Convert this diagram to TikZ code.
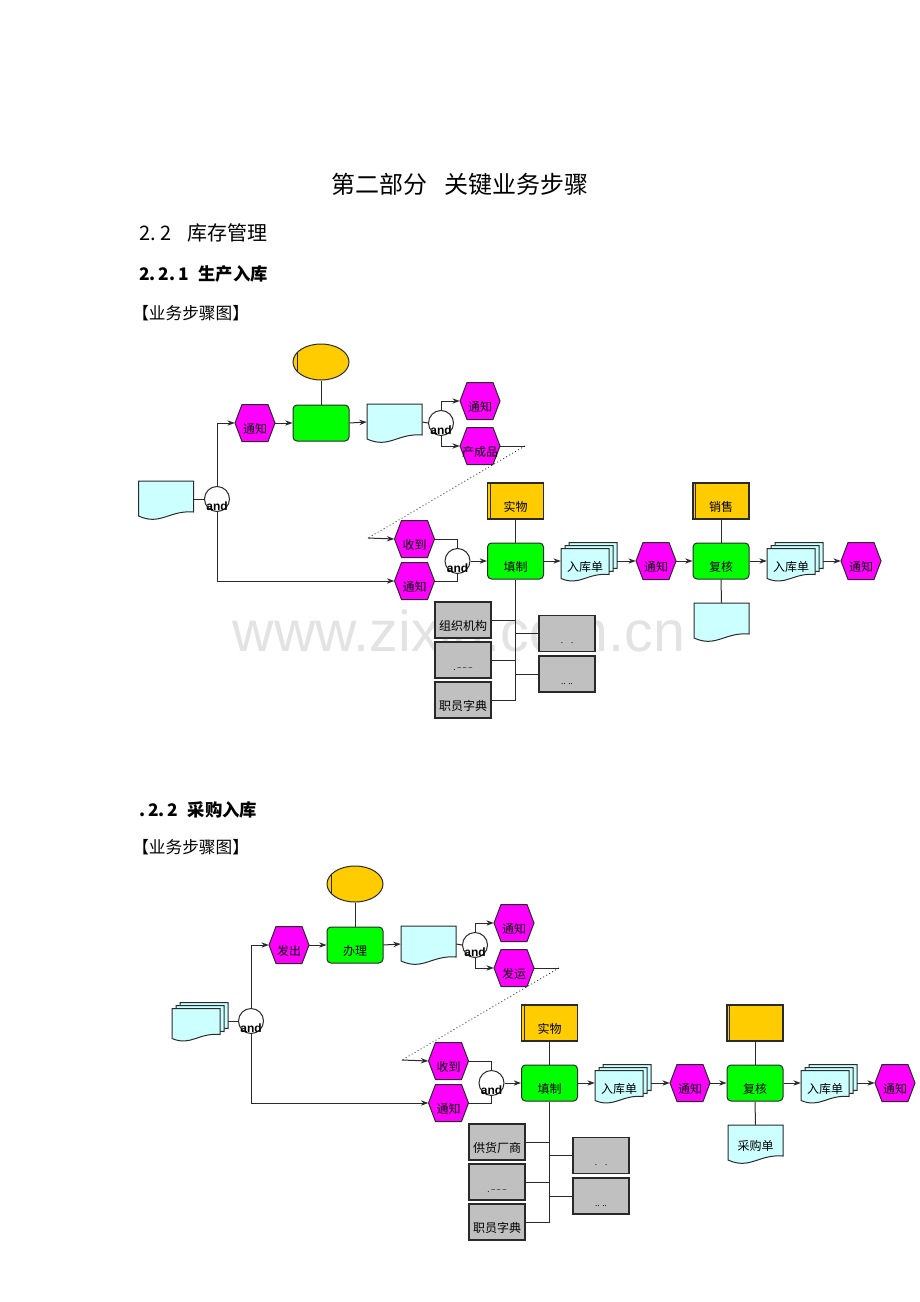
\documentclass[tikz,border=0pt]{standalone}
\usepackage{fontspec}
\setmainfont{Noto Sans CJK SC}
\newfontfamily\latinsans{Liberation Sans}
\usetikzlibrary{arrows.meta,shapes.geometric}

\definecolor{mag}{HTML}{FF00FF}
\definecolor{grn}{HTML}{00FF00}
\definecolor{cyn}{HTML}{CCFFFF}
\definecolor{org}{HTML}{FFCC00}
\definecolor{gry}{HTML}{C0C0C0}
\definecolor{edge}{HTML}{2A2A2A}

\tikzset{
 ln/.style={draw=edge, line width=0.75pt},
 arr/.style={ln, -{Stealth[length=5.5pt,width=4pt]}},
 dots/.style={draw=black, line width=0.6pt, dotted},
 txt/.style={font=\fontsize{9pt}{9pt}\selectfont, text height=15pt, text depth=0pt, inner sep=0pt},
 hexpath/.style={draw=edge, line width=0.75pt, fill=mag},
 docpath/.style={draw=edge, line width=0.75pt, fill=cyn},
 ghost/.style={txt, draw=none, fill=none},
 actbox/.style={txt, rectangle, rounded corners=3pt, draw=edge, line width=0.75pt, fill=grn, minimum width=42pt, minimum height=27pt},
 orgbox/.style={txt, rectangle, draw=edge, line width=0.9pt, fill=org, minimum width=42pt, minimum height=27pt},
 grybox/.style={txt, rectangle, draw=edge, line width=0.9pt, fill=gry, minimum width=42pt, minimum height=27pt},
 andgate/.style={circle, draw=edge, line width=0.75pt, fill=white, minimum size=18.75pt, inner sep=0pt,
   label={[font=\latinsans\bfseries\fontsize{9pt}{9pt}\selectfont, inner sep=0pt, yshift=-5.5pt]center:and}},
 evt/.style={ellipse, draw=edge, line width=0.75pt, fill=org, minimum width=42pt, minimum height=27pt, inner sep=0pt},
}

\newcommand\mkhex[3]{%
 \begin{scope}[shift={#2}]
  \filldraw[hexpath] (-20,0) -- (-13,-18.5) -- (13,-18.5) -- (20,0) -- (13,18.5) -- (-13,18.5) -- cycle;
 \end{scope}
 \node[ghost, minimum width=30pt, minimum height=27.75pt] (#1) at #2 {#3};}

\newcommand\mkdoc[3]{%
 \begin{scope}[shift={#2}]
  \filldraw[docpath] (-27.5,-18) -- (27.5,-18) -- (27.5,13) .. controls (3,11) and (-5.5,27) .. (-27.5,17) -- cycle;
 \end{scope}
 \node[ghost, text height=11pt, minimum width=41.25pt, minimum height=27pt] (#1) at #2 {#3};}

\newcommand\mksheet[2]{\filldraw[docpath] (#1,#2) -- (#1+48,#2) -- (#1+48,#2+26) .. controls (#1+26,#2+24) and (#1+19,#2+38) .. (#1,#2+30) -- cycle;}

\newcommand\mkstack[3]{%
 \begin{scope}[shift={#2}]
  \mksheet{-20}{-18.5}\mksheet{-24}{-15.5}\mksheet{-28}{-12.5}
 \end{scope}
 \node[ghost, minimum width=42pt, minimum height=27.75pt] (#1) at #2 {\hspace*{-6pt}#3};}

\newcommand\mkorg[3]{%
 \node[orgbox] (#1) at #2 {#3};
 \draw[ln] ([xshift=2.5pt]#1.north west) -- ([xshift=2.5pt]#1.south west);}

\newcommand\mkflow[7]{%
 % left input
 #7{ld}{(166,499)}{}
 \node[andgate] (a0) at (217,499) {};
 \draw[ln] (ld.east) -- (a0.west);
 % top row
 \node[evt] (ev) at (321,362) {};
 \draw[ln] ([xshift=3.75pt,yshift=7.5pt]ev.west) -- ([xshift=3.75pt,yshift=-7.5pt]ev.west);
 \mkhex{h1}{(255,423)}{#1}
 \node[actbox] (g1) at (321,423) {#2};
 \mkdoc{d1}{(394.5,422)}{}
 \node[andgate] (a1) at (441,423) {};
 \mkhex{h2}{(480,401)}{通知}
 \mkhex{h3}{(480,446)}{#3}
 \coordinate (c1) at (525,446);
 \coordinate (c2) at (368,538);
 % second row
 \mkhex{h4}{(414.5,539)}{收到}
 \mkhex{h5}{(414.5,581)}{通知}
 \node[andgate] (a2) at (457.5,561) {};
 \node[actbox] (g2) at (515.5,561) {填制};
 \mkorg{b1}{(515.5,501)}{实物}
 \mkstack{s1}{(589,561)}{入库单}
 \mkhex{h6}{(656,561)}{通知}
 \node[actbox] (g3) at (721,561) {复核};
 \mkorg{b2}{(721,501)}{#4}
 \mkdoc{d2}{(721.5,621)}{#5}
 \mkstack{s2}{(795,561)}{入库单}
 \mkhex{h7}{(861,561)}{通知}
 % data boxes
 \node[grybox] (k1) at (463,620) {#6};
 \node[grybox] (k2) at (463,660) {\fontsize{6pt}{6pt}\selectfont .\,--\,--\,--};
 \node[grybox] (k3) at (463,700) {职员字典};
 \node[grybox] (k4) at (567,633.5) {\fontsize{6pt}{6pt}\selectfont .\quad .};
 \node[grybox] (k5) at (567,674) {\fontsize{6pt}{6pt}\selectfont ..\,\,..};
 \coordinate (v) at (515.5,700);
 % connectors
 \draw[arr] (a0.north) |- (h1.west);
 \draw[arr] (a0.south) |- (h5.west);
 \draw[arr] (h1.east) -- (g1.west);
 \draw[ln] (ev.south) -- (g1.north);
 \draw[arr] (g1.east) -- (d1.west);
 \draw[ln] (d1.east) -- (a1.west);
 \draw[arr] (a1.north) |- (h2.west);
 \draw[arr] (a1.south) |- (h3.west);
 \draw[ln] (h3.east) -- (c1);
 \draw[dots] (c1) -- (c2);
 \draw[arr] (c2) -- (h4.west);
 \draw[ln] (h4.east) -| (a2.north);
 \draw[ln] (h5.east) -| (a2.south);
 \draw[arr] (a2.east) -- (g2.west);
 \draw[ln] (b1.south) -- (g2.north);
 \draw[arr] (g2.east) -- (s1.west);
 \draw[arr] (s1.east) -- (h6.west);
 \draw[arr] (h6.east) -- (g3.west);
 \draw[ln] (b2.south) -- (g3.north);
 \draw[ln] (g3.south) -- (d2.north);
 \draw[arr] (g3.east) -- (s2.west);
 \draw[arr] (s2.east) -- (h7.west);
 \draw[ln] (g2.south) -- (v);
 \draw[ln] (k1.east) -- (k1.east -| v);
 \draw[ln] (k2.east) -- (k2.east -| v);
 \draw[ln] (k3.east) -- (v);
 \draw[ln] (k4.west -| v) -- (k4.west);
 \draw[ln] (k5.west -| v) -- (k5.west);
}

\begin{document}
\begin{tikzpicture}[x=0.75pt,y=-0.75pt]
\useasboundingbox (0,0) rectangle (920,1302);
\fill[white] (0,0) rectangle (920,1302);

% watermark
\node[anchor=base, font=\latinsans\fontsize{43pt}{43pt}\selectfont, text=black!11, inner sep=0pt] (wm) at (459,651) {www.zixin.com.cn};

% headings
\node[font=\fontsize{18pt}{18pt}\selectfont, inner sep=0pt] (title) at (460,184) {第二部分\hspace{0.7em}关键业务步骤};
\node[anchor=west, font=\fontsize{15pt}{15pt}\selectfont, inner sep=0pt] (sec) at (139,233) {2.\hspace{0.25em}2\hspace{0.75em}库存管理};
\node[anchor=west, font=\bfseries\fontsize{13pt}{13pt}\selectfont, inner sep=0pt] (sub1) at (139,274) {2.\,2.\,1\hspace{0.55em}生产入库};
\node[anchor=west, font=\fontsize{12.5pt}{12.5pt}\selectfont, inner sep=0pt] (cap1) at (132,313) {【业务步骤图】};
\node[anchor=west, font=\bfseries\fontsize{13pt}{13pt}\selectfont, inner sep=0pt] (sub2) at (139,810) {.\,2.\,2\hspace{0.55em}采购入库};
\node[anchor=west, font=\fontsize{12.5pt}{12.5pt}\selectfont, inner sep=0pt] (cap2) at (132,847) {【业务步骤图】};

\begin{scope}[name prefix=A-]
\mkflow{通知}{}{产成品}{销售}{}{组织机构}{\mkdoc}
\end{scope}
\begin{scope}[shift={(34,522)}, name prefix=B-]
\mkflow{发出}{办理}{发运}{}{采购单}{供货厂商}{\mkstack}
\end{scope}
\end{tikzpicture}
\end{document}
